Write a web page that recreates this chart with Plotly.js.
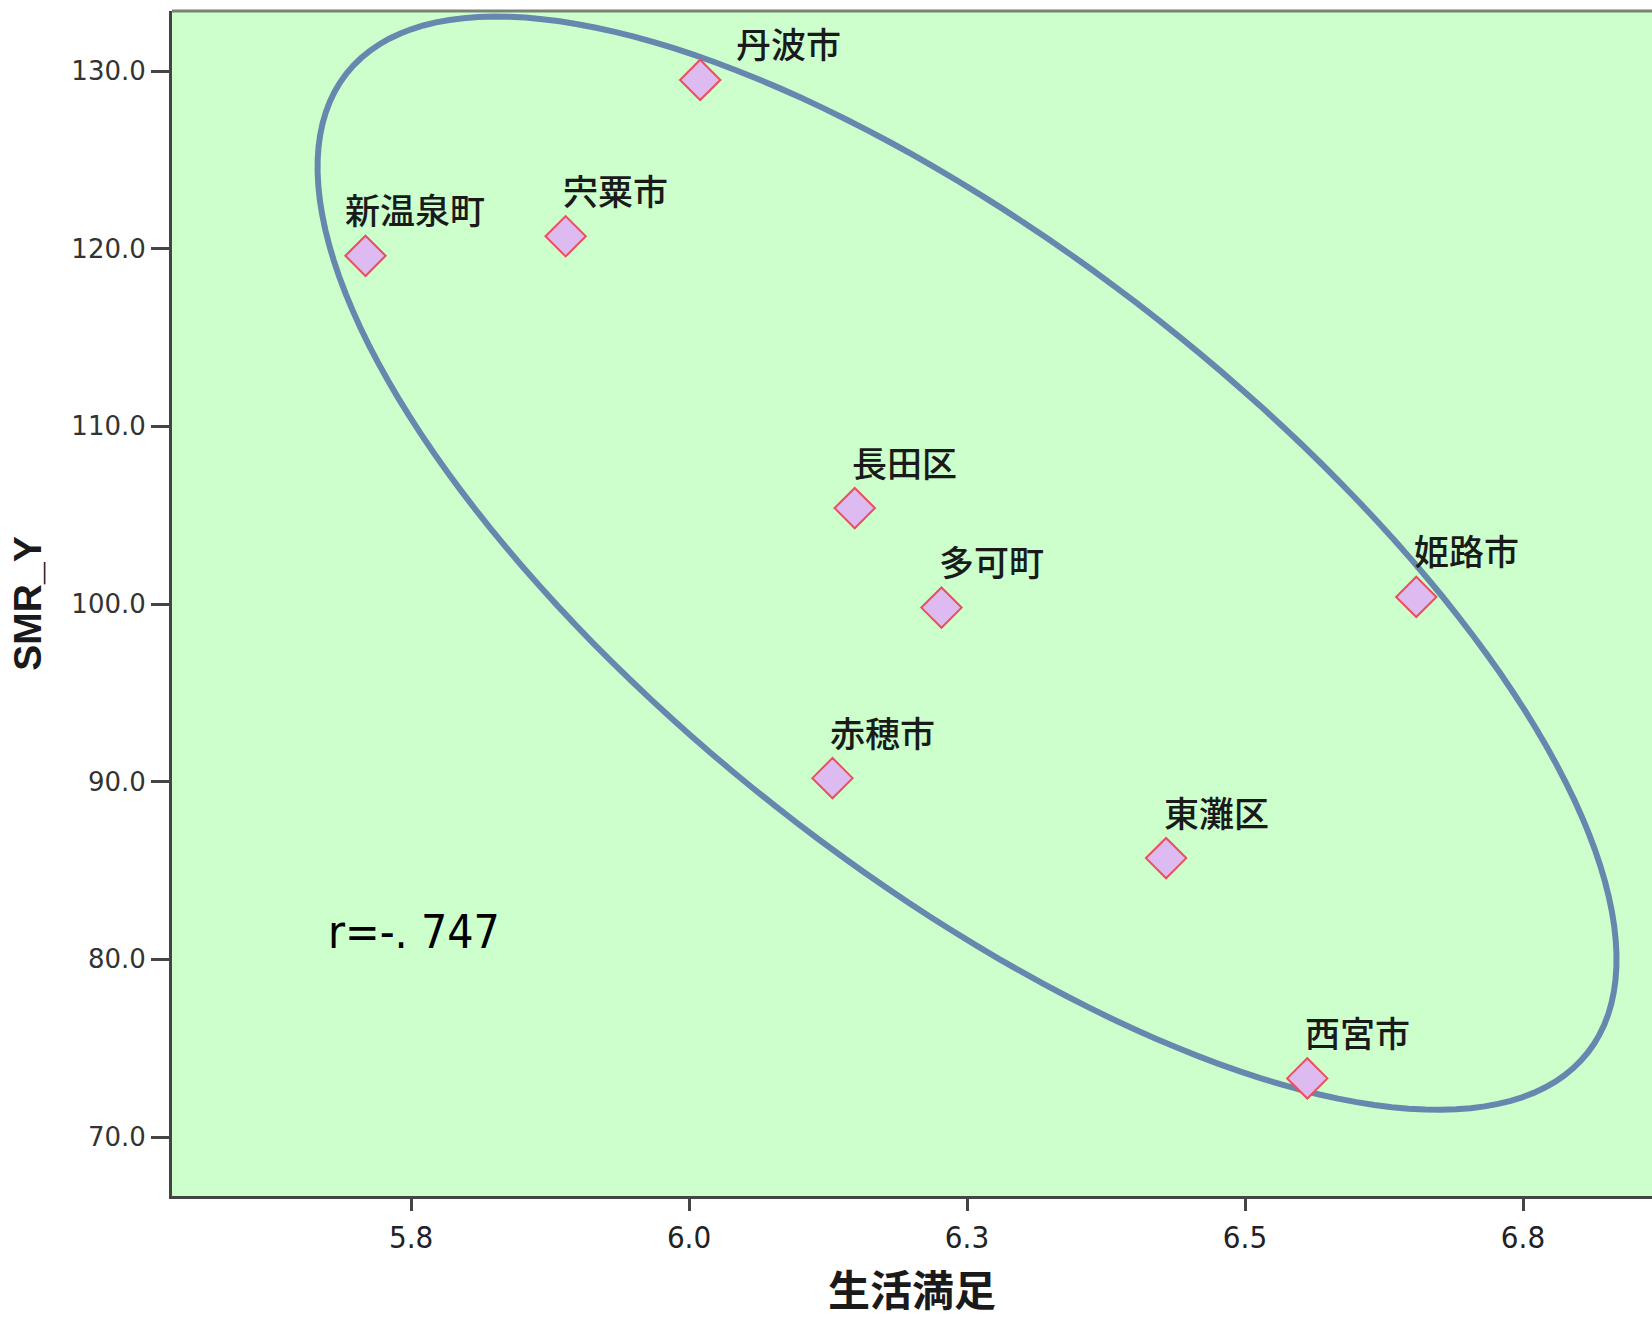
<!DOCTYPE html>
<html>
<head>
<meta charset="utf-8">
<script src="https://cdn.plot.ly/plotly-3.0.1.min.js"></script>
<style>html,body{margin:0;padding:0;background:#fff;}#chart{width:1652px;height:1318px;}</style>
</head>
<body>
<div id="chart"></div>
<script>
// ---- data ----
const places = ["新温泉町", "宍粟市", "丹波市", "長田区", "多可町", "赤穂市", "東灘区", "姫路市", "西宮市"];
const lifeSatisfaction = [5.709, 5.889, 6.010, 6.149, 6.227, 6.129, 6.429, 6.654, 6.556];
const smrY = [119.6, 120.7, 129.5, 105.4, 99.8, 90.2, 85.7, 100.4, 73.3];
const xTickVals = [5.75, 6.0, 6.25, 6.5, 6.75];
const xTickText = ["5.8", "6.0", "6.3", "6.5", "6.8"];
const yTickVals = [70, 80, 90, 100, 110, 120, 130];
const yTickText = ["70.0", "80.0", "90.0", "100.0", "110.0", "120.0", "130.0"];
const corrText = "r=-. 747";
// ellipse (data units): centre and two conjugate half-axis vectors
const ellipseCenter = [6.25, 102.3];
const ellipseU = [0.5581, -27.56];
const ellipseV = [-0.1723, -13.68];

// ---- ellipse path ----
let path = "";
const N = 180;
for (let i = 0; i <= N; i++) {
  const t = 2 * Math.PI * i / N;
  const x = ellipseCenter[0] + ellipseU[0] * Math.cos(t) + ellipseV[0] * Math.sin(t);
  const y = ellipseCenter[1] + ellipseU[1] * Math.cos(t) + ellipseV[1] * Math.sin(t);
  path += (i === 0 ? "M" : "L") + x.toFixed(5) + "," + y.toFixed(4);
}
path += "Z";

// label placement tweaks (pixels)
const labelShift = {"丹波市": [88, 37]};
const defaultShift = [50, 47];

const narrow = "Liberation Sans Narrow, DejaVu Sans Condensed, Arial Narrow, sans-serif";

const annotations = places.map((p, i) => {
  const s = labelShift[p] || defaultShift;
  return {
    x: lifeSatisfaction[i], y: smrY[i], xref: "x", yref: "y",
    text: p, showarrow: false, xanchor: "center", yanchor: "middle",
    xshift: s[0], yshift: s[1],
    font: {family: "Noto Sans CJK JP", size: 35, weight: 500, color: "#1a1a1a"}
  };
});
annotations.push({
  x: 0.1632, y: 0.2224, xref: "paper", yref: "paper",
  text: corrText, showarrow: false, xanchor: "center", yanchor: "middle",
  font: {family: narrow, size: 46, color: "#000"}
});

const trace = {
  type: "scatter", mode: "markers",
  x: lifeSatisfaction, y: smrY, text: places,
  marker: {symbol: "diamond", size: 31, color: "#DDBBF0", line: {color: "#EE4D5C", width: 2}},
  hoverinfo: "text+x+y"
};

const layout = {
  width: 1652, height: 1318,
  margin: {l: 172, r: 0, t: 11, b: 122},
  paper_bgcolor: "#ffffff",
  plot_bgcolor: "#CCFFCC",
  showlegend: false,
  xaxis: {
    range: [5.535, 6.866],
    tickmode: "array", tickvals: xTickVals, ticktext: xTickText,
    ticks: "outside", ticklen: 12, tickwidth: 3, tickcolor: "#444",
    showline: true, linecolor: "#444", linewidth: 3,
    showgrid: false, zeroline: false,
    tickfont: {family: narrow, size: 31, color: "#222"},
    title: {text: "生活満足", standoff: 30, font: {family: "Noto Sans CJK JP", size: 42, weight: "bold", color: "#1a1a1a"}}
  },
  yaxis: {
    range: [66.68, 133.38],
    tickmode: "array", tickvals: yTickVals, ticktext: yTickText,
    ticks: "outside", ticklen: 18, tickwidth: 3, tickcolor: "#444",
    showline: true, linecolor: "#444", linewidth: 3,
    showgrid: false, zeroline: false,
    tickfont: {family: "DejaVu Sans", size: 26, color: "#333"},
    title: {text: "SMR_Y", standoff: 18, font: {family: "Liberation Sans, Arial, sans-serif", size: 39, weight: "bold", color: "#1a1a1a"}}
  },
  shapes: [
    {type: "path", xref: "x", yref: "y", path: path, line: {color: "#6688AE", width: 6}, fillcolor: "rgba(0,0,0,0)", layer: "below"},
    {type: "line", xref: "paper", yref: "paper", x0: 0, x1: 1, y0: 1, y1: 1, line: {color: "#768476", width: 3}}
  ],
  annotations: annotations
};

Plotly.newPlot("chart", [trace], layout, {displayModeBar: false, staticPlot: true});
</script>
</body>
</html>
